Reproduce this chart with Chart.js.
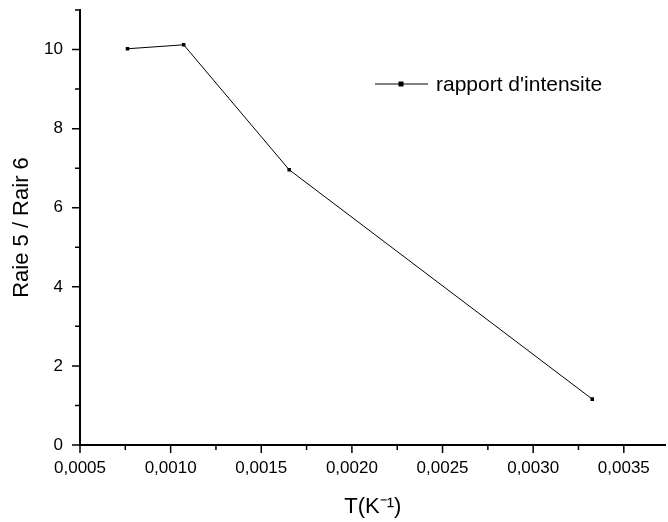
<!DOCTYPE html>
<html lang="fr">
<head>
    <meta charset="UTF-8">
    <title>Rapport d'intensite</title>
    <style>
        html, body { margin: 0; padding: 0; background: #fff; }
        #wrap { width: 668px; height: 522px; position: relative; }
    </style>
</head>
<body>
<div id="wrap"><canvas id="chart"></canvas></div>

<script src="https://cdn.jsdelivr.net/npm/chart.js"></script>
<script>
    // data
    const invT = [0.000762, 0.001072, 0.001654, 0.003326];
    const ratio = [10.02, 10.12, 6.96, 1.16];
    const seriesName = "rapport d'intensite";

    const xMajor = [0.0005, 0.0010, 0.0015, 0.0020, 0.0025, 0.0030, 0.0035];
    const xMinor = [0.00075, 0.00125, 0.00175, 0.00225, 0.00275, 0.00325];
    const yMajor = [0, 2, 4, 6, 8, 10];
    const yMinor = [1, 3, 5, 7, 9, 11];

    const FONT = "'Liberation Sans', Arial, sans-serif";

    // tick marks (major / minor) drawn through the scales, plus the legend
    const tickMarks = {
        id: 'tickMarks',
        afterDraw(chart) {
            const ctx = chart.ctx;
            const xs = chart.scales.x, ys = chart.scales.y;
            const area = chart.chartArea;
            ctx.save();
            ctx.strokeStyle = '#000';
            ctx.lineWidth = 1.5;
            ctx.beginPath();
            xMajor.forEach(v => { const p = xs.getPixelForValue(v); ctx.moveTo(p, area.bottom); ctx.lineTo(p, area.bottom + 8); });
            xMinor.forEach(v => { const p = xs.getPixelForValue(v); ctx.moveTo(p, area.bottom); ctx.lineTo(p, area.bottom + 5); });
            yMajor.forEach(v => { const p = ys.getPixelForValue(v); ctx.moveTo(area.left, p); ctx.lineTo(area.left - 8, p); });
            yMinor.forEach(v => { const p = ys.getPixelForValue(v); ctx.moveTo(area.left, p); ctx.lineTo(area.left - 5, p); });
            ctx.stroke();

            // legend
            const ly = 84;
            ctx.lineWidth = 1;
            ctx.beginPath();
            ctx.moveTo(375, ly);
            ctx.lineTo(428, ly);
            ctx.stroke();
            ctx.fillStyle = '#000';
            ctx.fillRect(398.5, ly - 2.5, 5, 5);
            ctx.font = '21px ' + FONT;
            ctx.textBaseline = 'middle';
            ctx.textAlign = 'left';
            ctx.fillText(seriesName, 436, ly + 1);
            ctx.restore();
        }
    };

    new Chart(document.getElementById('chart'), {
        type: 'scatter',
        data: {
            datasets: [{
                label: seriesName,
                data: invT.map((x, i) => ({ x: x, y: ratio[i] })),
                showLine: true,
                borderColor: '#000',
                borderWidth: 1,
                backgroundColor: '#000',
                pointStyle: 'rect',
                pointRadius: 2.5,
                pointBorderWidth: 0,
                pointHoverRadius: 2.5
            }]
        },
        options: {
            responsive: true,
            maintainAspectRatio: false,
            animation: false,
            layout: { padding: { top: 10, right: 0, left: 0, bottom: 0 } },
            plugins: {
                legend: { display: false },
                tooltip: { enabled: false }
            },
            scales: {
                x: {
                    type: 'linear',
                    min: 0.0005,
                    max: 0.00373,
                    afterBuildTicks: s => { s.ticks = xMajor.map(v => ({ value: v })); },
                    afterFit: s => { s.height = 77; s.paddingLeft = 0; s.paddingRight = 0; },
                    grid: { display: false, drawTicks: false },
                    border: { display: true, color: '#000', width: 2 },
                    ticks: {
                        padding: 13,
                        color: '#000',
                        font: { family: FONT, size: 17 },
                        maxRotation: 0,
                        callback: v => v.toFixed(4).replace('.', ',')
                    },
                    title: {
                        display: true,
                        text: 'T(K\u207B\u00B9)',
                        color: '#000',
                        font: { family: FONT, size: 22 },
                        padding: { top: 0, bottom: 2 }
                    }
                },
                y: {
                    min: 0,
                    max: 11,
                    afterBuildTicks: s => { s.ticks = yMajor.map(v => ({ value: v })); },
                    afterFit: s => { s.width = 80; s.paddingTop = 0; s.paddingBottom = 0; },
                    grid: { display: false, drawTicks: false },
                    border: { display: true, color: '#000', width: 2 },
                    ticks: {
                        padding: 17,
                        color: '#000',
                        font: { family: FONT, size: 17 }
                    },
                    title: {
                        display: true,
                        text: 'Raie 5 / Rair 6',
                        color: '#000',
                        font: { family: FONT, size: 22 },
                        padding: { top: 9, bottom: 0 }
                    }
                }
            }
        },
        plugins: [tickMarks]
    });
</script>
</body>
</html>
